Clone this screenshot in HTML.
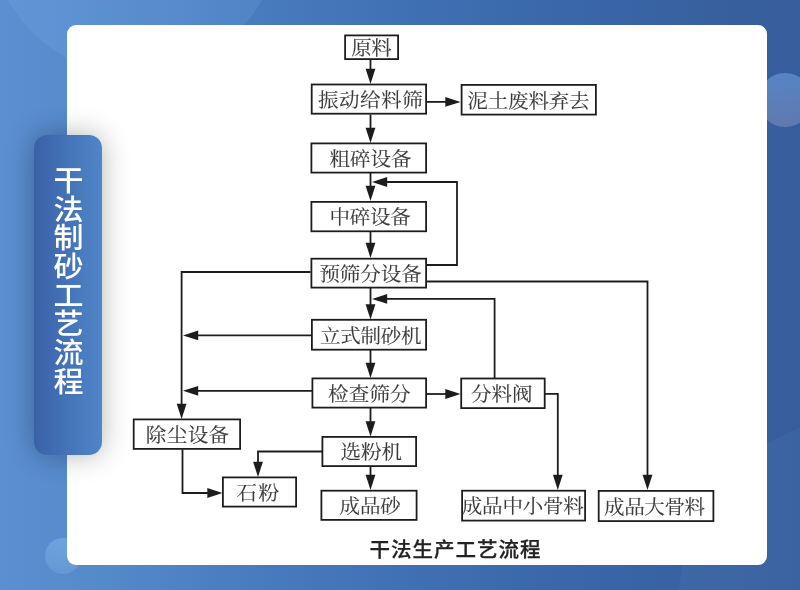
<!DOCTYPE html>
<html lang="zh-CN">
<head>
<meta charset="utf-8">
<title>干法制砂工艺流程</title>
<style>
html,body{margin:0;padding:0}
body{width:800px;height:590px;overflow:hidden;position:relative;
  background:linear-gradient(90deg,#5b8fd1 0%,#5489ca 13%,#4c80c3 25.6%,#4678bb 37%,#4071b4 50%,#3c6bad 62.5%,#3965a7 75%,#38619f 87.5%,#375d9c 100%);
  font-family:"Liberation Sans","Noto Sans CJK SC",sans-serif}
.deco{position:absolute;border-radius:50%}
.c1{left:-10px;top:-215px;width:290px;height:290px;background:rgba(150,200,255,.12)}
.c2{left:758px;top:73px;width:54px;height:54px;background:linear-gradient(180deg,rgba(105,155,220,.62),rgba(150,160,200,.42))}
.c3{left:45px;top:538px;width:36px;height:36px;background:linear-gradient(200deg,rgba(150,200,245,.42),rgba(150,200,245,.18))}
.c4{left:679px;top:417px;width:366px;height:366px;background:rgba(150,200,255,.06)}
.card{position:absolute;left:67px;top:25px;width:700px;height:540px;background:#fff;border-radius:9px;overflow:hidden}
.pill{position:absolute;left:34px;top:135px;width:68px;height:320px;border-radius:13px;
  background:linear-gradient(90deg,#3a61a7 0%,#4f86c9 100%);
  box-shadow:0 0 28px rgba(0,0,0,.30);
  color:#fff;font-size:28.6px;font-weight:500}
.pill span{position:absolute;left:-3px;top:30.6px;width:70px;height:240px;line-height:70px;writing-mode:vertical-rl;text-orientation:upright;letter-spacing:.06px;white-space:nowrap;transform:scaleX(1.05);transform-origin:35px 0}
.flow{position:absolute;left:0;top:0;width:800px;height:590px;display:block}
.flow text{font-family:"Liberation Serif","Noto Serif CJK SC",serif;font-size:19.4px;font-weight:400;fill:#3a3a3a;stroke:#3a3a3a;stroke-width:.12px;text-anchor:middle}
.flow text.cap{font-family:"Liberation Sans","Noto Sans CJK SC",sans-serif;font-size:20.5px;font-weight:500;fill:#222;stroke:#222;stroke-width:.25px;text-anchor:start;letter-spacing:1px}
</style>
</head>
<body>
<div class="deco c1"></div>
<div class="deco c4"></div>
<div class="deco c2"></div>
<div class="deco c3"></div>
<div class="card"></div>
<svg class="flow" width="800" height="590" viewBox="0 0 800 590">
<defs><filter id="soft" x="0" y="0" width="800" height="590" filterUnits="userSpaceOnUse"><feGaussianBlur stdDeviation="0.65"/></filter><filter id="soft2" x="0" y="0" width="800" height="590" filterUnits="userSpaceOnUse"><feGaussianBlur stdDeviation="0.7"/></filter></defs>
<g filter="url(#soft)">
<g fill="none" stroke="#1e1e1e" stroke-width="1.8" stroke-linejoin="miter">
<polyline points="370.5,59.5 370.5,70.8"/>
<polyline points="426.5,101.9 447.3,101.9"/>
<polyline points="370.5,114.5 370.5,129.8"/>
<polyline points="370.5,173 370.5,187.8"/>
<polyline points="426.5,265 457,265 457,182 385.2,182"/>
<polyline points="370.5,231.5 370.5,244.8"/>
<polyline points="310.5,272 181.6,272 181.6,405.8"/>
<polyline points="426.5,281.5 647.5,281.5 647.5,476.8"/>
<polyline points="370.5,288 370.5,306.3"/>
<polyline points="494.6,378 494.6,298.9 385.2,298.9"/>
<polyline points="311,335.4 196.2,335.4"/>
<polyline points="370.5,349.5 370.5,364.8"/>
<polyline points="312,390.8 196.2,390.8"/>
<polyline points="426.5,394 447.3,394"/>
<polyline points="370.5,408 370.5,423.3"/>
<polyline points="545,393.8 557.8,393.8 557.8,476.8"/>
<polyline points="322,451.5 258,451.5 258,463.8"/>
<polyline points="370.5,466.5 370.5,476.8"/>
<polyline points="182.5,449.5 182.5,493 209.3,493"/>
</g>
<g fill="#1e1e1e" stroke="none">
<polygon points="370.5,84 365.6,68.8 375.4,68.8"/>
<polygon points="460.5,101.9 445.3,106.8 445.3,97"/>
<polygon points="370.5,143 365.6,127.8 375.4,127.8"/>
<polygon points="370.5,201 365.6,185.8 375.4,185.8"/>
<polygon points="372,182 387.2,177.1 387.2,186.9"/>
<polygon points="370.5,258 365.6,242.8 375.4,242.8"/>
<polygon points="181.6,419 176.7,403.8 186.5,403.8"/>
<polygon points="647.5,490 642.6,474.8 652.4,474.8"/>
<polygon points="370.5,319.5 365.6,304.3 375.4,304.3"/>
<polygon points="372,298.9 387.2,294 387.2,303.8"/>
<polygon points="183,335.4 198.2,330.5 198.2,340.3"/>
<polygon points="370.5,378 365.6,362.8 375.4,362.8"/>
<polygon points="183,390.8 198.2,385.9 198.2,395.7"/>
<polygon points="460.5,394 445.3,398.9 445.3,389.1"/>
<polygon points="370.5,436.5 365.6,421.3 375.4,421.3"/>
<polygon points="557.8,490 552.9,474.8 562.7,474.8"/>
<polygon points="258,477 253.1,461.8 262.9,461.8"/>
<polygon points="370.5,490 365.6,474.8 375.4,474.8"/>
<polygon points="222.5,493 207.3,497.9 207.3,488.1"/>
</g>
<g fill="#fff" stroke="#1e1e1e" stroke-width="1.8">
<rect x="345.1" y="35.4" width="53" height="23.7"/>
<rect x="311.7" y="84.5" width="114.4" height="29.2"/>
<rect x="461.6" y="84.9" width="134.3" height="29.7"/>
<rect x="311.4" y="143.4" width="114.7" height="29.2"/>
<rect x="311.4" y="201.9" width="114.7" height="29.4"/>
<rect x="311.4" y="258.7" width="114.7" height="28.9"/>
<rect x="311.9" y="319.8" width="114.2" height="29.9"/>
<rect x="312.4" y="378.4" width="113.7" height="29.2"/>
<rect x="461.2" y="378.5" width="83.5" height="29.6"/>
<rect x="322.4" y="436.9" width="93.7" height="29.2"/>
<rect x="321.4" y="490.7" width="95.2" height="29.2"/>
<rect x="222.9" y="477.4" width="73.2" height="29.2"/>
<rect x="133.7" y="419.4" width="106.4" height="29.5"/>
<rect x="462.1" y="490.7" width="123" height="29.9"/>
<rect x="598.7" y="490.9" width="114.7" height="30.2"/>
</g>
</g>
<g filter="url(#soft2)">
<g>
<text transform="translate(371.29 55.05) scale(1.06 1)" style="letter-spacing:-0.54px">原料</text>
<text transform="translate(370.57 106.90) scale(1.06 1)" style="letter-spacing:0.49px">振动给料筛</text>
<text transform="translate(528.40 107.55) scale(1.06 1)" style="letter-spacing:-0.20px">泥土废料弃去</text>
<text transform="translate(370.48 165.80) scale(1.06 1)" style="letter-spacing:-0.06px">粗碎设备</text>
<text transform="translate(369.98 224.40) scale(1.06 1)" style="letter-spacing:-0.35px">中碎设备</text>
<text transform="translate(370.60 280.95) scale(1.06 1)" style="letter-spacing:-0.07px">预筛分设备</text>
<text transform="translate(370.69 342.55) scale(1.06 1)" style="letter-spacing:-0.26px">立式制砂机</text>
<text transform="translate(369.40 400.80) scale(1.06 1)" style="letter-spacing:0.15px">检查筛分</text>
<text transform="translate(501.84 401.10) scale(1.06 1)" style="letter-spacing:-0.07px">分料阀</text>
<text transform="translate(371.35 459.30) scale(1.06 1)" style="letter-spacing:-0.01px">选粉机</text>
<text transform="translate(370.17 513.10) scale(1.06 1)" style="letter-spacing:-0.13px">成品砂</text>
<text transform="translate(258.38 499.80) scale(1.06 1)" style="letter-spacing:1.18px">石粉</text>
<text transform="translate(187.68 441.95) scale(1.06 1)" style="letter-spacing:0.35px">除尘设备</text>
<text transform="translate(522.74 513.45) scale(1.06 1)" style="letter-spacing:-0.23px">成品中小骨料</text>
<text transform="translate(654.34 513.80) scale(1.06 1)" style="letter-spacing:-0.39px">成品大骨料</text>
<text class="cap" x="369.6" y="557.4">干法生产工艺流程</text>
</g>
</g>
</svg>
<div class="pill"><span>干法制砂工艺流程</span></div>
</body>
</html>
